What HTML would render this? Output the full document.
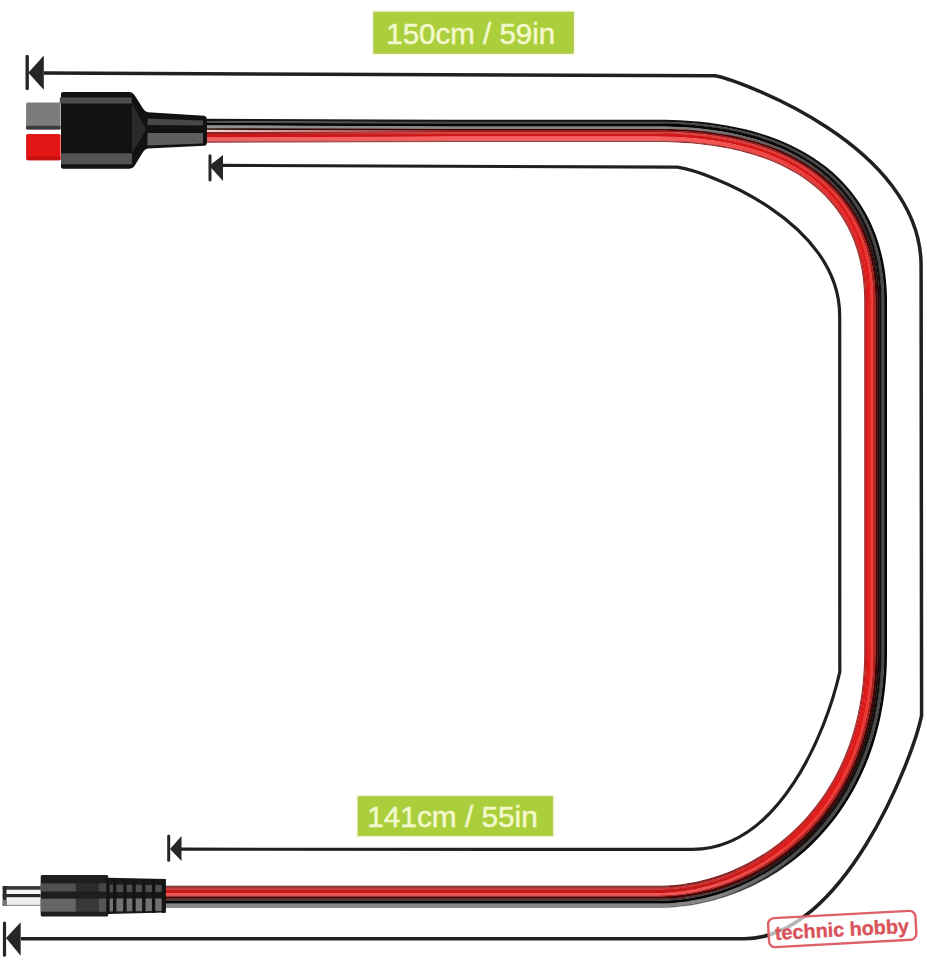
<!DOCTYPE html>
<html><head><meta charset="utf-8"><style>
html,body{margin:0;padding:0;background:#fff;}
body{width:927px;height:960px;overflow:hidden;font-family:"Liberation Sans",sans-serif;}
svg{display:block;}
</style></head><body>
<svg width="927" height="960" viewBox="0 0 927 960">
<defs><linearGradient id="g1" gradientUnits="userSpaceOnUse" x1="207.0" y1="130.9" x2="450.0" y2="130.9"><stop offset="0.00" stop-color="#505050"/><stop offset="1.00" stop-color="#4a4a4a"/></linearGradient>
<linearGradient id="g2" gradientUnits="userSpaceOnUse" x1="207.0" y1="130.9" x2="450.0" y2="130.9"><stop offset="0.00" stop-color="#909090"/><stop offset="1.00" stop-color="#8a8585"/></linearGradient>
<linearGradient id="g3" gradientUnits="userSpaceOnUse" x1="207.0" y1="130.9" x2="450.0" y2="130.9"><stop offset="0.00" stop-color="#200404"/><stop offset="1.00" stop-color="#4a0000"/></linearGradient>
<linearGradient id="g4" gradientUnits="userSpaceOnUse" x1="207.0" y1="130.9" x2="450.0" y2="130.9"><stop offset="0.00" stop-color="#f2d4d4"/><stop offset="1.00" stop-color="#8a1818"/></linearGradient>
<linearGradient id="g5" gradientUnits="userSpaceOnUse" x1="207.0" y1="130.9" x2="450.0" y2="130.9"><stop offset="0.00" stop-color="#802020"/><stop offset="1.00" stop-color="#d84040"/></linearGradient>
<linearGradient id="g6" gradientUnits="userSpaceOnUse" x1="207.0" y1="130.9" x2="450.0" y2="130.9"><stop offset="0.00" stop-color="#c81818"/><stop offset="1.00" stop-color="#d01818"/></linearGradient>
<linearGradient id="g7" gradientUnits="userSpaceOnUse" x1="207.0" y1="130.9" x2="450.0" y2="130.9"><stop offset="0.00" stop-color="#902828"/><stop offset="1.00" stop-color="#802020"/></linearGradient>
<linearGradient id="g8" gradientUnits="userSpaceOnUse" x1="698.0" y1="90.9" x2="895.6" y2="272.0"><stop offset="0.00" stop-color="#151515"/><stop offset="1.00" stop-color="#060606"/></linearGradient>
<linearGradient id="g9" gradientUnits="userSpaceOnUse" x1="698.0" y1="90.9" x2="895.6" y2="272.0"><stop offset="0.00" stop-color="#050505"/><stop offset="1.00" stop-color="#141010"/></linearGradient>
<linearGradient id="g10" gradientUnits="userSpaceOnUse" x1="698.0" y1="90.9" x2="895.6" y2="272.0"><stop offset="0.00" stop-color="#8a8585"/><stop offset="1.00" stop-color="#1a0a0a"/></linearGradient>
<linearGradient id="g11" gradientUnits="userSpaceOnUse" x1="698.0" y1="90.9" x2="895.6" y2="272.0"><stop offset="0.00" stop-color="#4a0000"/><stop offset="1.00" stop-color="#400404"/></linearGradient>
<linearGradient id="g12" gradientUnits="userSpaceOnUse" x1="698.0" y1="90.9" x2="895.6" y2="272.0"><stop offset="0.00" stop-color="#8a1818"/><stop offset="1.00" stop-color="#a82020"/></linearGradient>
<linearGradient id="g13" gradientUnits="userSpaceOnUse" x1="698.0" y1="90.9" x2="895.6" y2="272.0"><stop offset="0.00" stop-color="#d84040"/><stop offset="1.00" stop-color="#ec3a35"/></linearGradient>
<linearGradient id="g14" gradientUnits="userSpaceOnUse" x1="698.0" y1="90.9" x2="895.6" y2="272.0"><stop offset="0.00" stop-color="#d01818"/><stop offset="1.00" stop-color="#e01818"/></linearGradient>
<linearGradient id="g15" gradientUnits="userSpaceOnUse" x1="698.0" y1="90.9" x2="895.6" y2="272.0"><stop offset="0.00" stop-color="#f86060"/><stop offset="1.00" stop-color="#dc1818"/></linearGradient>
<linearGradient id="g16" gradientUnits="userSpaceOnUse" x1="698.0" y1="90.9" x2="895.6" y2="272.0"><stop offset="0.00" stop-color="#d05050"/><stop offset="1.00" stop-color="#b82525"/></linearGradient>
<linearGradient id="g17" gradientUnits="userSpaceOnUse" x1="698.0" y1="90.9" x2="895.6" y2="272.0"><stop offset="0.00" stop-color="#802020"/><stop offset="1.00" stop-color="#a03030"/></linearGradient>
<linearGradient id="g18" gradientUnits="userSpaceOnUse" x1="800.0" y1="850.0" x2="720.0" y2="905.0"><stop offset="0.00" stop-color="#060606"/><stop offset="1.00" stop-color="#606060"/></linearGradient>
<linearGradient id="g19" gradientUnits="userSpaceOnUse" x1="800.0" y1="850.0" x2="720.0" y2="905.0"><stop offset="0.00" stop-color="#4a4a4a"/><stop offset="1.00" stop-color="#868686"/></linearGradient>
<linearGradient id="g20" gradientUnits="userSpaceOnUse" x1="800.0" y1="850.0" x2="720.0" y2="905.0"><stop offset="0.00" stop-color="#141010"/><stop offset="1.00" stop-color="#050505"/></linearGradient>
<linearGradient id="g21" gradientUnits="userSpaceOnUse" x1="800.0" y1="850.0" x2="720.0" y2="905.0"><stop offset="0.00" stop-color="#1a0a0a"/><stop offset="1.00" stop-color="#4a3a3a"/></linearGradient>
<linearGradient id="g22" gradientUnits="userSpaceOnUse" x1="800.0" y1="850.0" x2="720.0" y2="905.0"><stop offset="0.00" stop-color="#400404"/><stop offset="1.00" stop-color="#4a0000"/></linearGradient>
<linearGradient id="g23" gradientUnits="userSpaceOnUse" x1="800.0" y1="850.0" x2="720.0" y2="905.0"><stop offset="0.00" stop-color="#a82020"/><stop offset="1.00" stop-color="#a82424"/></linearGradient>
<linearGradient id="g24" gradientUnits="userSpaceOnUse" x1="800.0" y1="850.0" x2="720.0" y2="905.0"><stop offset="0.00" stop-color="#ec3a35"/><stop offset="1.00" stop-color="#f05454"/></linearGradient>
<linearGradient id="g25" gradientUnits="userSpaceOnUse" x1="800.0" y1="850.0" x2="720.0" y2="905.0"><stop offset="0.00" stop-color="#e01818"/><stop offset="1.00" stop-color="#c41818"/></linearGradient>
<linearGradient id="g26" gradientUnits="userSpaceOnUse" x1="800.0" y1="850.0" x2="720.0" y2="905.0"><stop offset="0.00" stop-color="#dc1818"/><stop offset="1.00" stop-color="#c83838"/></linearGradient>
<linearGradient id="g27" gradientUnits="userSpaceOnUse" x1="800.0" y1="850.0" x2="720.0" y2="905.0"><stop offset="0.00" stop-color="#b82525"/><stop offset="1.00" stop-color="#8a2020"/></linearGradient>
<linearGradient id="g28" gradientUnits="userSpaceOnUse" x1="800.0" y1="850.0" x2="720.0" y2="905.0"><stop offset="0.00" stop-color="#a03030"/><stop offset="1.00" stop-color="#701818"/></linearGradient></defs>
<rect width="927" height="960" fill="#fff"/>
<path d="M 44 73.1 L 715.10 75.75 C 738.55 80.07, 921.10 145.28, 921.10 266.01 L 921.60 715.60 C 912.49 759.82, 842.96 938.80, 744.17 938.80 L 21 938.8" fill="none" stroke="#202020" stroke-width="3.5" stroke-linejoin="round"/>
<path d="M 223 165.35 L 677.50 167.20 C 705.96 171.16, 839.70 220.67, 839.70 316.07 L 839.80 672.00 C 826.23 731.86, 779.25 849.40, 692.26 849.40 L 181 849.2" fill="none" stroke="#202020" stroke-width="3.2" stroke-linejoin="round"/>
<line x1="27.2" y1="56.4" x2="27.2" y2="88.6" stroke="#262626" stroke-width="3.4" stroke-linecap="round"/><path d="M 28.3 72.8 L 43.8 55.4 L 43.8 89.7 Z" fill="#262626"/><line x1="210.0" y1="155.7" x2="210.0" y2="179.9" stroke="#262626" stroke-width="3.0" stroke-linecap="round"/><path d="M 209.3 165.8 L 223.0 155.0 L 223.0 180.9 Z" fill="#262626"/><line x1="168.7" y1="836.1" x2="168.7" y2="860.2" stroke="#262626" stroke-width="3.0" stroke-linecap="round"/><path d="M 170.0 849.1 L 181.5 835.9 L 181.5 861.1 Z" fill="#262626"/><line x1="4.5" y1="923.1" x2="4.5" y2="955.2" stroke="#262626" stroke-width="3.2" stroke-linecap="round"/><path d="M 6.0 938.0 L 20.7 922.2 L 20.7 955.8 Z" fill="#262626"/>
<rect x="371.7" y="10.1" width="203.8" height="45.2" fill="#fafcdf"/><rect x="373.7" y="12.1" width="199.8" height="41.2" fill="#abcf3c" stroke="#b0c55c" stroke-width="0.8"/>
<text x="386.3" y="43.6" font-family="Liberation Sans" font-size="29.5" fill="#f3f8cc" stroke="#f3f8cc" stroke-width="0.5">150cm / 59in</text>
<rect x="356" y="794.3" width="198.8" height="43.5" fill="#fafcdf"/><rect x="358" y="796.3" width="194.8" height="39.5" fill="#abcf3c" stroke="#b0c55c" stroke-width="0.8"/>
<text x="367.2" y="827" font-family="Liberation Sans" font-size="29.8" fill="#f3f8cc" stroke="#f3f8cc" stroke-width="0.5">141cm / 55in</text>
<path d="M207.00,118.80 450.00,119.80 450.00,122.15 207.00,121.35Z" fill="#151515"/>
<path d="M450.00,119.80 658.00,119.80 658.00,122.15 450.00,122.15Z" fill="#151515"/>
<path d="M887.00,302.00 887.00,652.00 884.05,652.00 884.05,302.00Z" fill="#060606"/>
<path d="M658.00,907.80 164.00,907.80 164.00,906.55 658.00,906.55Z" fill="#606060"/>
<path d="M658.00,119.80 665.41,119.85 672.71,120.02 679.89,120.31 686.95,120.71 693.90,121.22 700.74,121.84 707.46,122.58 714.06,123.43 720.55,124.39 726.92,125.47 733.18,126.65 739.32,127.94 745.35,129.35 751.26,130.86 757.05,132.49 762.73,134.22 768.29,136.06 773.73,138.02 779.05,140.08 784.26,142.24 789.35,144.52 794.31,146.90 799.16,149.39 803.89,151.99 808.49,154.69 812.97,157.50 817.33,160.41 821.57,163.43 825.68,166.55 829.66,169.77 833.52,173.10 837.24,176.52 840.84,180.05 844.31,183.68 847.65,187.40 850.85,191.22 853.92,195.13 856.86,199.14 859.67,203.24 862.33,207.43 864.87,211.70 867.26,216.07 869.52,220.52 871.64,225.05 873.62,229.66 875.47,234.36 877.18,239.13 878.75,243.98 880.18,248.91 881.48,253.90 882.64,258.97 883.66,264.12 884.54,269.33 885.29,274.61 885.90,279.96 886.38,285.37 886.72,290.85 886.93,296.39 887.00,302.00 884.05,302.00 883.99,296.46 883.79,290.99 883.47,285.59 883.01,280.25 882.41,274.97 881.69,269.77 880.82,264.64 879.83,259.57 878.70,254.58 877.44,249.66 876.04,244.81 874.50,240.04 872.84,235.34 871.03,230.73 869.09,226.19 867.02,221.73 864.81,217.36 862.47,213.06 860.00,208.86 857.39,204.74 854.64,200.71 851.77,196.76 848.76,192.91 845.62,189.15 842.35,185.49 838.95,181.91 835.42,178.44 831.77,175.06 827.98,171.78 824.07,168.60 820.03,165.51 815.86,162.53 811.58,159.65 807.16,156.88 802.63,154.20 797.97,151.63 793.19,149.16 788.29,146.80 783.26,144.54 778.12,142.39 772.86,140.35 767.48,138.41 761.98,136.57 756.36,134.85 750.62,133.23 744.77,131.72 738.79,130.32 732.70,129.03 726.50,127.85 720.17,126.77 713.73,125.81 707.17,124.96 700.50,124.22 693.71,123.59 686.80,123.08 679.77,122.67 672.63,122.39 665.37,122.21 658.00,122.15Z" fill="url(#g8)"/>
<path d="M887.00,652.00 886.90,660.44 886.59,668.75 886.09,676.92 885.40,684.96 884.51,692.87 883.43,700.64 882.17,708.28 880.73,715.78 879.11,723.15 877.32,730.37 875.36,737.47 873.24,744.42 870.95,751.24 868.50,757.91 865.90,764.45 863.15,770.85 860.25,777.10 857.20,783.22 854.02,789.19 850.70,795.02 847.25,800.71 843.68,806.25 839.98,811.65 836.16,816.91 832.23,822.02 828.18,826.99 824.03,831.81 819.77,836.49 815.42,841.01 810.96,845.40 806.42,849.63 801.79,853.72 797.07,857.65 792.27,861.44 787.40,865.08 782.45,868.57 777.44,871.91 772.36,875.10 767.22,878.15 762.03,881.04 756.79,883.78 751.50,886.38 746.16,888.83 740.79,891.13 735.38,893.28 729.94,895.28 724.47,897.13 718.98,898.83 713.46,900.39 707.93,901.80 702.39,903.06 696.83,904.17 691.27,905.13 685.71,905.95 680.15,906.61 674.60,907.13 669.05,907.50 663.52,907.73 658.00,907.80 658.00,906.55 663.48,906.47 668.98,906.23 674.49,905.84 680.01,905.28 685.53,904.58 691.04,903.72 696.56,902.70 702.06,901.53 707.54,900.22 713.02,898.75 718.47,897.13 723.89,895.36 729.29,893.45 734.65,891.39 739.98,889.18 745.27,886.83 750.52,884.33 755.72,881.69 760.87,878.90 765.96,875.97 771.01,872.90 775.99,869.69 780.91,866.33 785.76,862.84 790.54,859.20 795.26,855.43 799.89,851.51 804.45,847.46 808.92,843.27 813.32,838.94 817.62,834.47 821.82,829.85 825.92,825.09 829.91,820.19 833.80,815.14 837.57,809.95 841.22,804.62 844.75,799.14 848.16,793.53 851.44,787.77 854.58,781.87 857.59,775.83 860.45,769.64 863.17,763.32 865.74,756.86 868.16,750.26 870.43,743.52 872.53,736.64 874.47,729.63 876.24,722.47 877.84,715.19 879.27,707.76 880.52,700.20 881.58,692.50 882.46,684.67 883.15,676.70 883.65,668.60 883.95,660.37 884.05,652.00Z" fill="url(#g18)"/>
<path d="M207.00,121.00 450.00,121.80 450.00,123.85 207.00,123.35Z" fill="url(#g1)"/>
<path d="M450.00,121.80 658.00,121.80 658.00,123.85 450.00,123.85Z" fill="#4a4a4a"/>
<path d="M884.40,302.00 884.40,652.00 881.15,652.00 881.15,302.00Z" fill="#4a4a4a"/>
<path d="M658.00,906.90 164.00,906.90 164.00,903.25 658.00,903.25Z" fill="#868686"/>
<path d="M658.00,121.80 665.38,121.86 672.64,122.04 679.79,122.32 686.82,122.73 693.73,123.24 700.53,123.87 707.21,124.61 713.78,125.46 720.23,126.43 726.56,127.50 732.77,128.68 738.87,129.98 744.85,131.38 750.71,132.89 756.46,134.51 762.09,136.24 767.59,138.07 772.98,140.02 778.25,142.07 783.40,144.22 788.43,146.48 793.34,148.85 798.13,151.32 802.80,153.90 807.34,156.58 811.77,159.36 816.06,162.25 820.24,165.23 824.28,168.32 828.20,171.51 832.00,174.80 835.66,178.18 839.20,181.67 842.61,185.25 845.89,188.92 849.03,192.69 852.05,196.55 854.93,200.50 857.68,204.55 860.30,208.68 862.78,212.89 865.12,217.19 867.34,221.58 869.41,226.05 871.36,230.59 873.16,235.22 874.83,239.93 876.37,244.71 877.77,249.57 879.04,254.50 880.17,259.50 881.17,264.57 882.03,269.72 882.76,274.93 883.35,280.21 883.82,285.56 884.14,290.98 884.34,296.46 884.40,302.00 881.15,302.00 881.11,296.53 880.93,291.13 880.63,285.80 880.20,280.53 879.63,275.33 878.94,270.20 878.11,265.13 877.15,260.14 876.06,255.22 874.84,250.37 873.48,245.59 871.99,240.89 870.38,236.26 868.62,231.71 866.74,227.24 864.72,222.85 862.58,218.54 860.29,214.30 857.88,210.15 855.34,206.09 852.66,202.11 849.85,198.21 846.91,194.41 843.84,190.69 840.64,187.07 837.31,183.53 833.85,180.09 830.26,176.74 826.55,173.49 822.70,170.33 818.73,167.27 814.63,164.31 810.41,161.45 806.06,158.69 801.59,156.02 796.99,153.46 792.27,151.00 787.43,148.64 782.47,146.39 777.38,144.24 772.17,142.19 766.84,140.25 761.39,138.42 755.82,136.69 750.13,135.07 744.32,133.55 738.39,132.14 732.34,130.84 726.17,129.65 719.89,128.57 713.48,127.60 706.96,126.74 700.32,125.99 693.56,125.35 686.68,124.82 679.69,124.41 672.58,124.11 665.35,123.92 658.00,123.85Z" fill="#4a4a4a"/>
<path d="M884.40,652.00 884.30,660.38 884.00,668.62 883.50,676.73 882.81,684.70 881.93,692.54 880.86,700.25 879.61,707.82 878.18,715.26 876.58,722.55 874.81,729.72 872.87,736.74 870.76,743.63 868.49,750.37 866.07,756.98 863.50,763.46 860.77,769.79 857.90,775.98 854.89,782.03 851.74,787.94 848.46,793.70 845.05,799.33 841.51,804.81 837.85,810.15 834.08,815.35 830.19,820.41 826.19,825.32 822.08,830.09 817.87,834.71 813.57,839.19 809.17,843.52 804.68,847.72 800.12,851.78 795.48,855.70 790.76,859.48 785.97,863.12 781.11,866.62 776.18,869.98 771.19,873.20 766.14,876.27 761.03,879.21 755.88,882.00 750.67,884.65 745.41,887.15 740.11,889.50 734.78,891.72 729.40,893.78 724.00,895.70 718.57,897.47 713.11,899.09 707.63,900.56 702.13,901.88 696.62,903.05 691.10,904.06 685.57,904.92 680.05,905.63 674.52,906.19 669.00,906.58 663.49,906.82 658.00,906.90 658.00,903.25 663.39,903.17 668.80,902.94 674.23,902.56 679.66,902.02 685.09,901.34 690.52,900.50 695.95,899.52 701.37,898.38 706.78,897.10 712.18,895.67 717.55,894.09 722.91,892.37 728.23,890.50 733.53,888.48 738.79,886.32 744.01,884.02 749.19,881.57 754.33,878.98 759.42,876.25 764.46,873.37 769.44,870.36 774.37,867.20 779.23,863.90 784.03,860.46 788.76,856.88 793.41,853.16 797.99,849.31 802.50,845.31 806.92,841.18 811.25,836.90 815.50,832.49 819.65,827.93 823.70,823.23 827.64,818.39 831.48,813.41 835.20,808.28 838.81,803.01 842.30,797.61 845.66,792.06 848.90,786.37 852.00,780.54 854.97,774.57 857.80,768.46 860.49,762.21 863.04,755.82 865.43,749.30 867.67,742.63 869.75,735.83 871.66,728.89 873.42,721.81 875.00,714.60 876.41,707.25 877.65,699.76 878.70,692.14 879.57,684.38 880.26,676.49 880.75,668.46 881.05,660.30 881.15,652.00Z" fill="url(#g19)"/>
<path d="M207.00,123.00 450.00,123.50 450.00,126.75 207.00,125.65Z" fill="#050505"/>
<path d="M450.00,123.50 658.00,123.50 658.00,126.75 450.00,126.75Z" fill="#050505"/>
<path d="M881.50,302.00 881.50,652.00 879.15,652.00 879.15,302.00Z" fill="#141010"/>
<path d="M658.00,903.60 164.00,903.60 164.00,900.55 658.00,900.55Z" fill="#050505"/>
<path d="M658.00,123.50 665.35,123.57 672.59,123.76 679.70,124.06 686.71,124.47 693.59,125.00 700.35,125.64 707.00,126.39 713.53,127.25 719.94,128.23 726.23,129.31 732.41,130.50 738.47,131.80 744.40,133.21 750.22,134.73 755.92,136.35 761.50,138.08 766.95,139.92 772.29,141.87 777.51,143.91 782.60,146.07 787.58,148.33 792.43,150.69 797.16,153.15 801.76,155.72 806.24,158.39 810.60,161.16 814.83,164.02 818.94,166.99 822.92,170.06 826.77,173.22 830.50,176.48 834.09,179.84 837.56,183.29 840.90,186.83 844.11,190.46 847.18,194.19 850.13,198.00 852.95,201.91 855.63,205.90 858.18,209.97 860.60,214.13 862.89,218.37 865.04,222.70 867.06,227.10 868.95,231.58 870.70,236.14 872.33,240.78 873.82,245.49 875.17,250.28 876.40,255.14 877.49,260.07 878.45,265.07 879.28,270.14 879.98,275.28 880.55,280.49 880.98,285.77 881.28,291.12 881.46,296.52 881.50,302.00 879.15,302.00 879.09,296.58 878.91,291.23 878.59,285.95 878.15,280.73 877.58,275.59 876.87,270.51 876.04,265.51 875.07,260.58 873.98,255.72 872.76,250.94 871.41,246.23 869.92,241.59 868.31,237.04 866.57,232.56 864.69,228.16 862.69,223.84 860.56,219.60 858.30,215.44 855.91,211.36 853.39,207.37 850.74,203.47 847.96,199.65 845.05,195.91 842.02,192.27 838.86,188.71 835.57,185.25 832.15,181.88 828.61,178.59 824.94,175.41 821.15,172.31 817.23,169.31 813.18,166.41 809.01,163.61 804.72,160.90 800.30,158.29 795.76,155.77 791.10,153.36 786.31,151.05 781.41,148.84 776.38,146.73 771.23,144.72 765.96,142.81 760.56,141.01 755.05,139.31 749.41,137.72 743.66,136.23 737.79,134.85 731.79,133.58 725.68,132.41 719.45,131.35 713.09,130.39 706.62,129.55 700.03,128.82 693.32,128.19 686.50,127.68 679.55,127.28 672.48,126.99 665.30,126.81 658.00,126.75Z" fill="url(#g9)"/>
<path d="M881.50,652.00 881.40,660.31 881.10,668.48 880.61,676.52 879.92,684.42 879.05,692.18 877.99,699.82 876.76,707.31 875.34,714.67 873.76,721.89 872.00,728.98 870.08,735.93 868.00,742.74 865.76,749.41 863.36,755.95 860.82,762.35 858.12,768.60 855.29,774.72 852.31,780.70 849.20,786.54 845.96,792.24 842.59,797.79 839.10,803.21 835.49,808.48 831.76,813.62 827.91,818.61 823.96,823.46 819.91,828.16 815.75,832.73 811.50,837.15 807.16,841.43 802.73,845.57 798.22,849.57 793.63,853.44 788.97,857.16 784.23,860.74 779.43,864.19 774.56,867.49 769.63,870.65 764.64,873.68 759.59,876.55 754.49,879.29 749.35,881.89 744.16,884.34 738.92,886.64 733.65,888.81 728.35,890.82 723.01,892.70 717.65,894.42 712.27,896.00 706.87,897.44 701.45,898.72 696.02,899.86 690.58,900.85 685.14,901.68 679.69,902.37 674.25,902.91 668.82,903.29 663.40,903.52 658.00,903.60 658.00,900.55 663.32,900.48 668.66,900.26 674.01,899.89 679.37,899.38 684.73,898.72 690.10,897.91 695.47,896.96 700.83,895.87 706.18,894.63 711.52,893.24 716.84,891.71 722.14,890.04 727.42,888.22 732.67,886.26 737.89,884.15 743.07,881.91 748.21,879.51 753.31,876.98 758.37,874.30 763.37,871.48 768.32,868.52 773.21,865.42 778.04,862.17 782.81,858.79 787.50,855.26 792.13,851.59 796.68,847.78 801.15,843.82 805.53,839.73 809.83,835.50 814.04,831.12 818.15,826.61 822.16,821.95 826.07,817.15 829.87,812.21 833.57,807.13 837.14,801.91 840.60,796.55 843.94,791.04 847.14,785.40 850.22,779.62 853.17,773.70 855.98,767.64 858.65,761.45 861.17,755.11 863.54,748.64 865.76,742.02 867.83,735.27 869.73,728.38 871.47,721.36 873.04,714.20 874.44,706.90 875.67,699.46 876.72,691.89 877.58,684.18 878.26,676.34 878.75,668.36 879.05,660.25 879.15,652.00Z" fill="url(#g20)"/>
<path d="M207.00,125.30 450.00,126.40 450.00,129.25 207.00,128.55Z" fill="url(#g2)"/>
<path d="M450.00,126.40 658.00,126.40 658.00,129.25 450.00,129.25Z" fill="#8a8585"/>
<path d="M879.50,302.00 879.50,652.00 877.45,652.00 877.45,302.00Z" fill="#1a0a0a"/>
<path d="M658.00,900.90 164.00,900.90 164.00,898.45 658.00,898.45Z" fill="#4a3a3a"/>
<path d="M658.00,126.40 665.31,126.46 672.50,126.64 679.57,126.93 686.52,127.33 693.35,127.84 700.07,128.47 706.66,129.20 713.14,130.05 719.50,131.00 725.74,132.06 731.86,133.23 737.86,134.51 743.74,135.89 749.51,137.38 755.15,138.98 760.67,140.68 766.07,142.48 771.35,144.39 776.51,146.40 781.55,148.52 786.46,150.73 791.26,153.05 795.93,155.46 800.48,157.98 804.90,160.60 809.20,163.31 813.38,166.12 817.43,169.03 821.36,172.04 825.17,175.14 828.84,178.33 832.39,181.62 835.82,185.00 839.12,188.48 842.28,192.04 845.33,195.69 848.24,199.43 851.02,203.26 853.68,207.18 856.21,211.18 858.60,215.26 860.87,219.43 863.01,223.68 865.01,228.01 866.89,232.43 868.64,236.91 870.25,241.48 871.74,246.13 873.10,250.85 874.32,255.64 875.42,260.51 876.38,265.45 877.22,270.46 877.92,275.55 878.50,280.70 878.94,285.92 879.26,291.21 879.44,296.57 879.50,302.00 877.45,302.00 877.38,296.62 877.19,291.32 876.86,286.08 876.41,280.91 875.83,275.81 875.11,270.79 874.28,265.83 873.31,260.96 872.21,256.15 870.99,251.42 869.64,246.77 868.15,242.19 866.55,237.70 864.81,233.28 862.95,228.94 860.96,224.68 858.84,220.50 856.59,216.41 854.22,212.40 851.72,208.47 849.09,204.63 846.34,200.87 843.46,197.20 840.46,193.62 837.33,190.12 834.08,186.72 830.70,183.41 827.19,180.18 823.56,177.05 819.81,174.01 815.93,171.07 811.93,168.21 807.81,165.46 803.57,162.79 799.20,160.23 794.70,157.76 790.09,155.39 785.35,153.11 780.50,150.94 775.52,148.86 770.42,146.89 765.19,145.02 759.85,143.24 754.39,141.57 748.80,140.01 743.09,138.54 737.27,137.18 731.32,135.93 725.25,134.78 719.07,133.74 712.76,132.80 706.33,131.97 699.79,131.25 693.12,130.64 686.33,130.14 679.43,129.75 672.41,129.47 665.26,129.30 658.00,129.25Z" fill="url(#g10)"/>
<path d="M879.50,652.00 879.40,660.26 879.10,668.38 878.61,676.37 877.93,684.22 877.07,691.94 876.02,699.52 874.79,706.96 873.39,714.27 871.81,721.44 870.07,728.47 868.16,735.37 866.09,742.13 863.87,748.75 861.49,755.24 858.97,761.58 856.30,767.79 853.49,773.85 850.54,779.78 847.45,785.57 844.24,791.22 840.90,796.73 837.43,802.10 833.85,807.33 830.15,812.42 826.35,817.37 822.43,822.17 818.41,826.84 814.29,831.36 810.08,835.74 805.78,839.98 801.38,844.08 796.91,848.04 792.35,851.86 787.72,855.54 783.01,859.07 778.24,862.46 773.40,865.71 768.50,868.82 763.54,871.79 758.53,874.61 753.47,877.29 748.36,879.83 743.21,882.23 738.02,884.48 732.79,886.59 727.54,888.55 722.25,890.37 716.94,892.05 711.61,893.58 706.26,894.97 700.90,896.21 695.53,897.30 690.16,898.26 684.78,899.06 679.41,899.72 674.04,900.24 668.68,900.61 663.33,900.83 658.00,900.90 658.00,898.45 663.26,898.38 668.54,898.16 673.84,897.81 679.14,897.31 684.46,896.67 689.77,895.88 695.09,894.95 700.40,893.88 705.70,892.67 711.00,891.32 716.27,889.82 721.53,888.18 726.77,886.39 731.98,884.47 737.16,882.40 742.30,880.19 747.41,877.84 752.47,875.34 757.49,872.70 762.47,869.92 767.38,867.00 772.25,863.94 777.05,860.73 781.78,857.38 786.45,853.89 791.04,850.26 795.56,846.48 800.00,842.56 804.36,838.50 808.62,834.30 812.80,829.96 816.88,825.48 820.86,820.86 824.74,816.09 828.51,811.19 832.18,806.15 835.73,800.97 839.16,795.64 842.47,790.18 845.66,784.58 848.71,778.84 851.64,772.97 854.43,766.95 857.08,760.80 859.58,754.50 861.94,748.07 864.14,741.50 866.19,734.80 868.09,727.95 869.81,720.97 871.38,713.86 872.77,706.60 873.99,699.21 875.03,691.68 875.89,684.02 876.57,676.22 877.06,668.28 877.35,660.21 877.45,652.00Z" fill="url(#g21)"/>
<path d="M207.00,128.20 450.00,128.90 450.00,130.65 207.00,130.15Z" fill="url(#g3)"/>
<path d="M450.00,128.90 658.00,128.90 658.00,130.65 450.00,130.65Z" fill="#4a0000"/>
<path d="M877.80,302.00 877.80,652.00 875.25,652.00 875.25,302.00Z" fill="#400404"/>
<path d="M658.00,898.80 164.00,898.80 164.00,896.25 658.00,896.25Z" fill="#4a0000"/>
<path d="M658.00,128.90 665.27,128.95 672.42,129.12 679.45,129.40 686.36,129.79 693.15,130.29 699.82,130.90 706.37,131.62 712.81,132.45 719.12,133.39 725.32,134.43 731.39,135.58 737.34,136.84 743.18,138.20 748.89,139.67 754.48,141.24 759.96,142.91 765.31,144.68 770.54,146.56 775.65,148.54 780.64,150.62 785.50,152.80 790.25,155.07 794.87,157.45 799.37,159.92 803.75,162.50 808.00,165.16 812.13,167.93 816.14,170.78 820.03,173.74 823.79,176.78 827.43,179.92 830.94,183.15 834.33,186.47 837.59,189.89 840.72,193.39 843.74,196.98 846.62,200.66 849.38,204.42 852.01,208.28 854.52,212.21 856.90,216.24 859.15,220.34 861.27,224.53 863.27,228.80 865.13,233.15 866.87,237.57 868.49,242.08 869.97,246.67 871.33,251.33 872.55,256.07 873.65,260.88 874.62,265.77 875.46,270.73 876.17,275.77 876.76,280.87 877.21,286.05 877.54,291.30 877.73,296.61 877.80,302.00 875.25,302.00 875.20,296.68 875.01,291.42 874.70,286.24 874.27,281.12 873.71,276.08 873.02,271.11 872.20,266.21 871.26,261.39 870.19,256.64 869.00,251.97 867.68,247.37 866.23,242.85 864.66,238.40 862.96,234.04 861.13,229.75 859.18,225.54 857.11,221.41 854.91,217.37 852.58,213.40 850.13,209.52 847.55,205.72 844.85,202.00 842.02,198.37 839.07,194.82 835.99,191.36 832.79,187.99 829.46,184.70 826.01,181.50 822.44,178.40 818.74,175.38 814.91,172.45 810.96,169.62 806.89,166.88 802.69,164.23 798.37,161.67 793.93,159.22 789.36,156.85 784.67,154.59 779.86,152.42 774.92,150.34 769.86,148.37 764.68,146.50 759.38,144.73 753.95,143.06 748.40,141.49 742.73,140.02 736.94,138.66 731.03,137.40 724.99,136.25 718.83,135.20 712.56,134.26 706.16,133.42 699.64,132.70 693.00,132.08 686.24,131.57 679.36,131.17 672.36,130.89 665.24,130.71 658.00,130.65Z" fill="url(#g11)"/>
<path d="M877.80,652.00 877.70,660.22 877.41,668.30 876.92,676.24 876.24,684.05 875.38,691.72 874.34,699.26 873.11,706.66 871.72,713.93 870.16,721.05 868.42,728.04 866.53,734.90 864.48,741.61 862.27,748.19 859.91,754.63 857.40,760.93 854.75,767.09 851.95,773.12 849.02,779.01 845.96,784.75 842.77,790.36 839.46,795.83 836.02,801.16 832.46,806.35 828.79,811.40 825.01,816.31 821.13,821.08 817.14,825.71 813.05,830.20 808.87,834.55 804.60,838.76 800.24,842.82 795.79,846.75 791.27,850.53 786.66,854.17 781.99,857.66 777.24,861.02 772.44,864.23 767.57,867.30 762.64,870.23 757.66,873.01 752.63,875.65 747.56,878.15 742.44,880.51 737.29,882.72 732.10,884.80 726.89,886.72 721.64,888.51 716.37,890.15 711.09,891.65 705.79,893.01 700.47,894.23 695.15,895.30 689.83,896.23 684.50,897.01 679.18,897.66 673.87,898.16 668.56,898.51 663.27,898.73 658.00,898.80 658.00,896.25 663.20,896.18 668.42,895.97 673.66,895.62 678.91,895.12 684.16,894.49 689.42,893.71 694.68,892.79 699.93,891.73 705.18,890.53 710.42,889.19 715.64,887.71 720.85,886.09 726.03,884.32 731.18,882.42 736.31,880.37 741.40,878.18 746.46,875.85 751.47,873.38 756.44,870.77 761.36,868.02 766.23,865.13 771.04,862.09 775.80,858.92 780.49,855.60 785.11,852.15 789.66,848.55 794.13,844.81 798.52,840.93 802.83,836.91 807.06,832.76 811.19,828.46 815.23,824.02 819.17,819.44 823.01,814.73 826.75,809.87 830.38,804.88 833.89,799.75 837.29,794.48 840.57,789.07 843.73,783.52 846.76,777.84 849.66,772.01 852.42,766.05 855.04,759.95 857.52,753.72 859.86,747.34 862.05,740.83 864.08,734.18 865.96,727.40 867.67,720.47 869.22,713.41 870.60,706.21 871.81,698.88 872.85,691.41 873.70,683.80 874.37,676.05 874.86,668.17 875.15,660.15 875.25,652.00Z" fill="url(#g22)"/>
<path d="M207.00,129.80 450.00,130.30 450.00,132.05 207.00,132.35Z" fill="url(#g4)"/>
<path d="M450.00,130.30 658.00,130.30 658.00,132.05 450.00,132.05Z" fill="#8a1818"/>
<path d="M875.60,302.00 875.60,652.00 873.05,652.00 873.05,302.00Z" fill="#a82020"/>
<path d="M658.00,896.60 164.00,896.60 164.00,895.15 658.00,895.15Z" fill="#a82424"/>
<path d="M658.00,130.30 665.25,130.36 672.37,130.54 679.38,130.82 686.26,131.22 693.03,131.73 699.68,132.35 706.20,133.07 712.61,133.91 718.89,134.85 725.05,135.90 731.09,137.06 737.02,138.32 742.81,139.68 748.49,141.15 754.05,142.72 759.48,144.39 764.80,146.17 769.98,148.04 775.05,150.02 780.00,152.09 784.82,154.27 789.52,156.54 794.09,158.91 798.55,161.37 802.88,163.93 807.08,166.58 811.16,169.33 815.12,172.17 818.95,175.10 822.66,178.13 826.25,181.24 829.71,184.45 833.04,187.74 836.25,191.12 839.34,194.59 842.30,198.15 845.13,201.79 847.84,205.51 850.42,209.32 852.88,213.22 855.21,217.19 857.42,221.25 859.50,225.39 861.45,229.61 863.28,233.90 864.98,238.28 866.56,242.74 868.01,247.27 869.33,251.88 870.53,256.56 871.60,261.32 872.55,266.15 873.36,271.06 874.05,276.04 874.62,281.09 875.05,286.21 875.36,291.40 875.55,296.67 875.60,302.00 873.05,302.00 873.01,296.73 872.84,291.53 872.55,286.40 872.13,281.34 871.59,276.35 870.92,271.44 870.13,266.59 869.21,261.83 868.17,257.13 867.01,252.51 865.72,247.97 864.30,243.50 862.77,239.11 861.11,234.80 859.32,230.56 857.41,226.40 855.38,222.32 853.22,218.32 850.94,214.40 848.54,210.56 846.01,206.80 843.36,203.13 840.58,199.53 837.68,196.02 834.66,192.60 831.51,189.25 828.23,186.00 824.83,182.83 821.31,179.74 817.66,176.75 813.89,173.84 809.99,171.02 805.97,168.30 801.82,165.66 797.55,163.12 793.15,160.67 788.63,158.32 783.99,156.06 779.22,153.89 774.33,151.82 769.31,149.85 764.17,147.98 758.90,146.21 753.51,144.54 748.00,142.97 742.37,141.50 736.61,140.13 730.73,138.87 724.73,137.71 718.60,136.66 712.36,135.71 705.99,134.87 699.49,134.14 692.88,133.52 686.15,133.00 679.29,132.60 672.32,132.30 665.22,132.12 658.00,132.05Z" fill="url(#g12)"/>
<path d="M875.60,652.00 875.50,660.16 875.21,668.19 874.72,676.08 874.05,683.83 873.20,691.45 872.16,698.93 870.95,706.28 869.57,713.48 868.01,720.55 866.30,727.49 864.42,734.28 862.38,740.94 860.19,747.46 857.85,753.84 855.37,760.09 852.74,766.20 849.97,772.17 847.07,778.00 844.04,783.69 840.87,789.25 837.59,794.66 834.19,799.94 830.66,805.08 827.03,810.08 823.29,814.94 819.44,819.67 815.49,824.25 811.45,828.70 807.31,833.00 803.08,837.17 798.76,841.19 794.36,845.08 789.88,848.82 785.32,852.42 780.69,855.89 776.00,859.21 771.24,862.39 766.42,865.43 761.54,868.32 756.61,871.08 751.63,873.69 746.61,876.17 741.55,878.50 736.44,880.69 731.31,882.74 726.15,884.65 720.96,886.42 715.74,888.05 710.51,889.53 705.27,890.87 700.01,892.08 694.74,893.14 689.48,894.06 684.21,894.83 678.94,895.47 673.69,895.96 668.44,896.32 663.21,896.53 658.00,896.60 658.00,895.15 663.17,895.08 668.36,894.85 673.57,894.49 678.78,893.97 684.00,893.31 689.22,892.51 694.45,891.56 699.66,890.46 704.86,889.23 710.05,887.85 715.23,886.33 720.38,884.67 725.51,882.87 730.61,880.92 735.67,878.84 740.71,876.62 745.70,874.26 750.65,871.77 755.55,869.13 760.40,866.36 765.20,863.45 769.95,860.41 774.63,857.23 779.26,853.92 783.81,850.47 788.30,846.88 792.71,843.17 797.05,839.31 801.31,835.33 805.49,831.21 809.58,826.95 813.58,822.56 817.49,818.03 821.29,813.36 824.99,808.56 828.58,803.61 832.06,798.53 835.43,793.31 838.68,787.95 841.80,782.46 844.80,776.83 847.67,771.06 850.41,765.16 853.01,759.11 855.47,752.93 857.79,746.62 859.95,740.16 861.97,733.57 863.83,726.84 865.53,719.97 867.07,712.97 868.44,705.83 869.64,698.55 870.67,691.13 871.51,683.58 872.18,675.89 872.66,668.06 872.95,660.10 873.05,652.00Z" fill="url(#g23)"/>
<path d="M207.00,132.00 450.00,131.70 450.00,133.85 207.00,134.15Z" fill="url(#g5)"/>
<path d="M450.00,131.70 658.00,131.70 658.00,133.85 450.00,133.85Z" fill="#d84040"/>
<path d="M873.40,302.00 873.40,652.00 870.45,652.00 870.45,302.00Z" fill="#ec3a35"/>
<path d="M658.00,895.50 164.00,895.50 164.00,892.65 658.00,892.65Z" fill="#f05454"/>
<path d="M658.00,131.70 665.22,131.77 672.33,131.95 679.31,132.25 686.17,132.65 692.91,133.17 699.53,133.79 706.03,134.53 712.40,135.37 718.66,136.31 724.79,137.37 730.80,138.53 736.69,139.79 742.45,141.16 748.09,142.63 753.61,144.20 759.01,145.88 764.28,147.65 769.43,149.53 774.46,151.50 779.36,153.57 784.14,155.74 788.79,158.00 793.32,160.36 797.72,162.82 802.00,165.36 806.16,168.00 810.19,170.74 814.10,173.56 817.88,176.47 821.53,179.47 825.07,182.56 828.47,185.74 831.76,189.01 834.91,192.36 837.95,195.79 840.85,199.31 843.64,202.92 846.30,206.60 848.83,210.37 851.24,214.22 853.53,218.15 855.69,222.16 857.73,226.25 859.64,230.42 861.43,234.66 863.09,238.99 864.64,243.39 866.05,247.87 867.34,252.42 868.51,257.05 869.55,261.75 870.47,266.53 871.27,271.38 871.94,276.31 872.48,281.30 872.90,286.37 873.19,291.51 873.36,296.72 873.40,302.00 870.45,302.00 870.42,296.79 870.27,291.65 869.99,286.59 869.59,281.59 869.07,276.67 868.43,271.82 867.66,267.05 866.77,262.34 865.76,257.72 864.63,253.16 863.38,248.69 862.00,244.28 860.50,239.96 858.88,235.71 857.14,231.53 855.28,227.44 853.30,223.42 851.19,219.48 848.97,215.61 846.62,211.83 844.14,208.12 841.55,204.50 838.83,200.95 835.99,197.49 833.03,194.10 829.94,190.80 826.72,187.58 823.39,184.45 819.93,181.39 816.34,178.43 812.63,175.55 808.79,172.76 804.83,170.05 800.74,167.44 796.53,164.91 792.19,162.48 787.73,160.14 783.14,157.89 778.42,155.73 773.58,153.67 768.62,151.71 763.52,149.84 758.31,148.08 752.97,146.41 747.50,144.84 741.91,143.37 736.20,142.00 730.36,140.73 724.39,139.57 718.31,138.52 712.10,137.57 705.76,136.72 699.31,135.98 692.73,135.35 686.03,134.83 679.20,134.42 672.26,134.12 665.19,133.93 658.00,133.85Z" fill="url(#g13)"/>
<path d="M873.40,652.00 873.30,660.11 873.01,668.08 872.53,675.92 871.86,683.62 871.01,691.18 869.99,698.60 868.78,705.89 867.41,713.04 865.87,720.05 864.17,726.93 862.30,733.67 860.29,740.27 858.12,746.73 855.80,753.06 853.33,759.25 850.73,765.30 847.99,771.21 845.11,776.99 842.11,782.63 838.98,788.13 835.72,793.50 832.35,798.72 828.87,803.81 825.27,808.76 821.56,813.58 817.76,818.25 813.85,822.79 809.84,827.19 805.74,831.46 801.56,835.58 797.29,839.57 792.94,843.43 788.52,847.15 784.03,850.74 779.46,854.20 774.83,857.52 770.14,860.70 765.39,863.75 760.58,866.66 755.72,869.44 750.81,872.08 745.85,874.58 740.85,876.94 735.81,879.17 730.73,881.25 725.63,883.20 720.49,885.00 715.33,886.67 710.15,888.19 704.95,889.57 699.73,890.81 694.51,891.90 689.28,892.85 684.05,893.66 678.82,894.32 673.60,894.83 668.38,895.20 663.18,895.43 658.00,895.50 658.00,892.65 663.10,892.58 668.23,892.36 673.36,891.99 678.51,891.48 683.67,890.83 688.82,890.03 693.98,889.09 699.13,888.00 704.27,886.78 709.39,885.41 714.50,883.91 719.59,882.26 724.65,880.47 729.69,878.55 734.69,876.49 739.66,874.29 744.59,871.95 749.48,869.48 754.32,866.88 759.11,864.13 763.86,861.26 768.54,858.25 773.17,855.10 777.73,851.82 782.23,848.41 786.66,844.87 791.02,841.20 795.31,837.39 799.51,833.45 803.64,829.38 807.69,825.18 811.64,820.84 815.49,816.36 819.25,811.75 822.91,807.00 826.46,802.11 829.90,797.09 833.22,791.93 836.43,786.64 839.52,781.21 842.49,775.64 845.33,769.94 848.04,764.10 850.61,758.12 853.04,752.00 855.33,745.75 857.48,739.37 859.47,732.84 861.31,726.18 863.00,719.38 864.52,712.44 865.88,705.37 867.07,698.16 868.09,690.81 868.93,683.32 869.59,675.70 870.06,667.94 870.35,660.04 870.45,652.00Z" fill="url(#g24)"/>
<path d="M207.00,133.80 450.00,133.50 450.00,136.85 207.00,137.85Z" fill="url(#g6)"/>
<path d="M450.00,133.50 658.00,133.50 658.00,136.85 450.00,136.85Z" fill="#d01818"/>
<path d="M870.80,302.00 870.80,652.00 868.15,652.00 868.15,302.00Z" fill="#e01818"/>
<path d="M658.00,893.00 164.00,893.00 164.00,889.25 658.00,889.25Z" fill="#c41818"/>
<path d="M658.00,133.50 665.20,133.58 672.27,133.77 679.22,134.07 686.05,134.48 692.76,135.00 699.34,135.63 705.81,136.37 712.15,137.22 718.36,138.17 724.46,139.23 730.43,140.39 736.27,141.66 741.99,143.03 747.59,144.50 753.07,146.07 758.41,147.74 763.64,149.51 768.74,151.38 773.71,153.35 778.56,155.41 783.28,157.57 787.88,159.82 792.36,162.17 796.70,164.61 800.92,167.14 805.02,169.76 808.99,172.47 812.84,175.27 816.56,178.15 820.15,181.13 823.62,184.18 826.97,187.33 830.19,190.55 833.28,193.86 836.26,197.26 839.10,200.73 841.83,204.29 844.43,207.92 846.91,211.64 849.26,215.43 851.50,219.30 853.61,223.26 855.60,227.29 857.46,231.39 859.21,235.58 860.83,239.84 862.33,244.17 863.71,248.58 864.97,253.07 866.10,257.63 867.12,262.27 868.01,266.98 868.77,271.77 869.42,276.63 869.94,281.56 870.34,286.56 870.62,291.64 870.77,296.78 870.80,302.00 868.15,302.00 868.11,296.85 867.95,291.77 867.67,286.76 867.26,281.83 866.74,276.97 866.09,272.18 865.32,267.47 864.43,262.84 863.42,258.28 862.30,253.80 861.05,249.40 859.68,245.07 858.20,240.82 856.60,236.65 854.87,232.55 853.03,228.53 851.07,224.59 848.99,220.73 846.80,216.94 844.48,213.24 842.04,209.61 839.48,206.06 836.81,202.59 834.01,199.20 831.09,195.89 828.05,192.66 824.89,189.51 821.61,186.44 818.20,183.46 814.67,180.55 811.02,177.74 807.24,175.00 803.34,172.36 799.31,169.79 795.16,167.32 790.88,164.94 786.48,162.64 781.96,160.43 777.30,158.32 772.52,156.30 767.62,154.37 762.59,152.54 757.44,150.80 752.16,149.16 746.75,147.62 741.22,146.18 735.57,144.83 729.78,143.59 723.88,142.45 717.85,141.41 711.69,140.48 705.41,139.65 699.01,138.92 692.48,138.31 685.83,137.80 679.06,137.39 672.16,137.10 665.14,136.92 658.00,136.85Z" fill="url(#g14)"/>
<path d="M870.80,652.00 870.70,660.05 870.41,667.95 869.94,675.73 869.28,683.36 868.43,690.85 867.41,698.21 866.22,705.43 864.86,712.51 863.34,719.46 861.65,726.27 859.81,732.94 857.81,739.47 855.66,745.87 853.37,752.13 850.93,758.25 848.36,764.24 845.64,770.09 842.80,775.80 839.83,781.38 836.74,786.81 833.52,792.12 830.19,797.28 826.74,802.31 823.19,807.21 819.53,811.96 815.76,816.59 811.90,821.07 807.94,825.42 803.89,829.63 799.76,833.70 795.54,837.65 791.25,841.46 786.88,845.14 782.44,848.69 777.94,852.11 773.36,855.39 768.73,858.54 764.04,861.55 759.29,864.44 754.49,867.18 749.64,869.79 744.74,872.27 739.81,874.61 734.83,876.81 729.82,878.88 724.77,880.80 719.70,882.59 714.60,884.24 709.48,885.75 704.35,887.12 699.20,888.34 694.04,889.43 688.88,890.37 683.71,891.17 678.55,891.83 673.39,892.34 668.25,892.71 663.11,892.93 658.00,893.00 658.00,889.25 663.01,889.18 668.04,888.98 673.09,888.64 678.15,888.16 683.22,887.54 688.30,886.79 693.37,885.90 698.45,884.87 703.52,883.71 708.58,882.41 713.62,880.98 718.65,879.40 723.66,877.69 728.64,875.85 733.60,873.86 738.52,871.74 743.41,869.49 748.26,867.09 753.06,864.56 757.82,861.90 762.53,859.10 767.18,856.16 771.78,853.08 776.31,849.87 780.78,846.53 785.18,843.05 789.50,839.43 793.75,835.68 797.92,831.79 802.01,827.77 806.01,823.61 809.92,819.31 813.73,814.88 817.45,810.32 821.07,805.62 824.58,800.79 827.98,795.82 831.27,790.71 834.45,785.47 837.51,780.10 840.45,774.59 843.26,768.94 845.94,763.16 848.48,757.24 850.89,751.18 853.16,744.99 855.29,738.66 857.26,732.20 859.09,725.60 860.76,718.86 862.27,711.98 863.62,704.97 864.79,697.81 865.80,690.52 866.64,683.10 867.29,675.53 867.77,667.83 868.05,659.98 868.15,652.00Z" fill="url(#g25)"/>
<path d="M207.00,137.50 450.00,136.50 450.00,140.55 207.00,140.55Z" fill="#f86060"/>
<path d="M450.00,136.50 658.00,136.50 658.00,140.55 450.00,140.55Z" fill="#f86060"/>
<path d="M868.50,302.00 868.50,652.00 866.05,652.00 866.05,302.00Z" fill="#dc1818"/>
<path d="M658.00,889.60 164.00,889.60 164.00,887.45 658.00,887.45Z" fill="#c83838"/>
<path d="M658.00,136.50 665.15,136.57 672.17,136.75 679.08,137.04 685.86,137.45 692.51,137.96 699.05,138.57 705.46,139.30 711.74,140.13 717.90,141.06 723.94,142.10 729.85,143.25 735.64,144.49 741.30,145.84 746.84,147.28 752.26,148.83 757.54,150.47 762.71,152.21 767.74,154.04 772.66,155.97 777.44,158.00 782.10,160.12 786.64,162.33 791.05,164.63 795.33,167.02 799.49,169.50 803.53,172.06 807.44,174.72 811.22,177.45 814.89,180.28 818.42,183.19 821.84,186.18 825.13,189.26 828.30,192.41 831.35,195.65 834.28,198.97 837.08,202.37 839.76,205.85 842.33,209.41 844.77,213.04 847.09,216.76 849.30,220.55 851.38,224.43 853.35,228.38 855.19,232.41 856.92,236.51 858.53,240.70 860.02,244.96 861.38,249.30 862.63,253.71 863.76,258.20 864.77,262.77 865.66,267.41 866.43,272.13 867.08,276.92 867.61,281.79 868.02,286.73 868.30,291.75 868.46,296.84 868.50,302.00 866.05,302.00 865.99,296.90 865.80,291.87 865.50,286.92 865.07,282.05 864.52,277.25 863.86,272.53 863.07,267.89 862.17,263.32 861.15,258.84 860.01,254.43 858.75,250.10 857.38,245.85 855.89,241.68 854.29,237.59 852.57,233.58 850.73,229.65 848.78,225.80 846.71,222.03 844.53,218.33 842.23,214.72 839.81,211.18 837.28,207.72 834.64,204.35 831.87,201.05 828.99,197.83 825.99,194.69 822.87,191.63 819.64,188.65 816.28,185.75 812.80,182.93 809.20,180.19 805.48,177.54 801.64,174.97 797.68,172.48 793.59,170.08 789.38,167.76 785.04,165.53 780.58,163.39 776.00,161.33 771.29,159.37 766.45,157.50 761.49,155.72 756.41,154.03 751.20,152.43 745.86,150.93 740.40,149.53 734.81,148.23 729.10,147.02 723.26,145.91 717.29,144.91 711.20,144.00 704.99,143.20 698.65,142.50 692.19,141.91 685.60,141.42 678.88,141.04 672.05,140.77 665.08,140.60 658.00,140.55Z" fill="url(#g15)"/>
<path d="M868.50,652.00 868.40,659.99 868.12,667.84 867.64,675.56 866.99,683.13 866.15,690.57 865.14,697.87 863.96,705.03 862.61,712.05 861.10,718.94 859.43,725.69 857.60,732.30 855.62,738.77 853.49,745.11 851.22,751.31 848.81,757.37 846.26,763.30 843.57,769.09 840.76,774.75 837.82,780.27 834.75,785.65 831.57,790.90 828.27,796.01 824.86,800.99 821.35,805.83 817.72,810.54 814.00,815.11 810.18,819.54 806.26,823.85 802.26,828.01 798.16,832.04 793.99,835.94 789.73,839.70 785.40,843.32 780.99,846.81 776.52,850.16 771.97,853.37 767.37,856.45 762.71,859.39 758.00,862.20 753.23,864.87 748.42,867.40 743.56,869.80 738.67,872.06 733.73,874.18 728.77,876.17 723.78,878.02 718.76,879.73 713.72,881.31 708.67,882.75 703.60,884.05 698.52,885.22 693.44,886.24 688.35,887.14 683.27,887.89 678.19,888.50 673.12,888.98 668.06,889.33 663.02,889.53 658.00,889.60 658.00,887.45 662.96,887.38 667.94,887.18 672.94,886.83 677.96,886.35 682.98,885.73 688.00,884.98 693.03,884.09 698.06,883.06 703.08,881.90 708.08,880.60 713.08,879.16 718.06,877.59 723.01,875.88 727.95,874.04 732.85,872.06 737.72,869.95 742.56,867.70 747.35,865.32 752.10,862.80 756.81,860.15 761.46,857.36 766.06,854.44 770.61,851.39 775.09,848.20 779.51,844.88 783.86,841.43 788.14,837.84 792.34,834.12 796.47,830.27 800.51,826.29 804.47,822.17 808.34,817.92 812.12,813.53 815.80,809.02 819.38,804.36 822.86,799.58 826.23,794.65 829.49,789.60 832.64,784.41 835.67,779.08 838.58,773.62 841.36,768.03 844.02,762.30 846.54,756.43 848.93,750.43 851.18,744.30 853.29,738.02 855.25,731.61 857.06,725.06 858.71,718.38 860.21,711.56 861.55,704.60 862.72,697.50 863.72,690.26 864.55,682.89 865.20,675.37 865.67,667.72 865.95,659.93 866.05,652.00Z" fill="url(#g26)"/>
<path d="M207.00,140.20 450.00,140.20 450.00,141.55 207.00,141.85Z" fill="#d05050"/>
<path d="M450.00,140.20 658.00,140.20 658.00,141.55 450.00,141.55Z" fill="#d05050"/>
<path d="M866.40,302.00 866.40,652.00 864.95,652.00 864.95,302.00Z" fill="#b82525"/>
<path d="M658.00,887.80 164.00,887.80 164.00,886.45 658.00,886.45Z" fill="#8a2020"/>
<path d="M658.00,140.20 665.09,140.25 672.06,140.42 678.90,140.69 685.62,141.07 692.21,141.56 698.68,142.15 705.03,142.85 711.25,143.65 717.35,144.56 723.32,145.57 729.17,146.68 734.89,147.88 740.48,149.19 745.95,150.60 751.30,152.10 756.51,153.69 761.61,155.38 766.58,157.17 771.42,159.05 776.14,161.01 780.73,163.07 785.20,165.22 789.54,167.45 793.76,169.77 797.86,172.18 801.83,174.67 805.68,177.25 809.41,179.91 813.02,182.66 816.50,185.48 819.87,188.39 823.12,191.37 826.24,194.44 829.25,197.59 832.14,200.82 834.91,204.13 837.56,207.51 840.10,210.98 842.52,214.52 844.83,218.15 847.01,221.85 849.09,225.64 851.04,229.50 852.88,233.44 854.61,237.46 856.22,241.56 857.71,245.74 859.09,250.00 860.35,254.34 861.49,258.75 862.51,263.25 863.42,267.82 864.20,272.47 864.87,277.20 865.42,282.01 865.85,286.89 866.15,291.85 866.34,296.89 866.40,302.00 864.95,302.00 864.89,296.92 864.71,291.92 864.40,287.00 863.98,282.15 863.44,277.39 862.78,272.69 862.00,268.08 861.11,263.55 860.09,259.09 858.96,254.71 857.72,250.42 856.36,246.20 854.88,242.06 853.29,238.00 851.59,234.02 849.77,230.12 847.83,226.30 845.78,222.55 843.62,218.89 841.34,215.30 838.95,211.79 836.44,208.36 833.82,205.01 831.08,201.74 828.22,198.54 825.24,195.43 822.15,192.39 818.94,189.43 815.61,186.55 812.16,183.75 808.59,181.03 804.89,178.39 801.08,175.84 797.14,173.36 793.08,170.98 788.89,168.67 784.58,166.45 780.15,164.32 775.59,162.28 770.91,160.32 766.10,158.45 761.16,156.68 756.10,155.00 750.91,153.41 745.60,151.92 740.16,150.52 734.59,149.22 728.90,148.01 723.08,146.91 717.13,145.90 711.07,145.00 704.87,144.20 698.55,143.50 692.10,142.91 685.53,142.42 678.83,142.04 672.01,141.77 665.07,141.61 658.00,141.55Z" fill="url(#g16)"/>
<path d="M866.40,652.00 866.30,659.94 866.02,667.74 865.55,675.40 864.90,682.92 864.07,690.31 863.06,697.55 861.89,704.66 860.55,711.63 859.05,718.46 857.40,725.15 855.58,731.71 853.62,738.13 851.51,744.41 849.26,750.56 846.87,756.57 844.34,762.44 841.68,768.18 838.89,773.78 835.98,779.25 832.94,784.59 829.79,789.78 826.52,794.85 823.15,799.78 819.66,804.57 816.08,809.23 812.39,813.76 808.61,818.15 804.73,822.41 800.76,826.54 796.71,830.53 792.58,834.38 788.37,838.11 784.08,841.70 779.72,845.16 775.30,848.48 770.81,851.68 766.25,854.73 761.65,857.66 756.98,860.45 752.27,863.11 747.51,865.63 742.71,868.01 737.86,870.27 732.98,872.38 728.07,874.37 723.13,876.21 718.17,877.92 713.18,879.50 708.18,880.94 703.16,882.24 698.13,883.40 693.10,884.43 688.06,885.33 683.02,886.08 677.99,886.70 672.97,887.18 667.96,887.52 662.97,887.73 658.00,887.80 658.00,886.45 662.93,886.38 667.89,886.18 672.86,885.83 677.85,885.35 682.84,884.74 687.84,883.98 692.84,883.09 697.84,882.07 702.83,880.91 707.82,879.61 712.78,878.17 717.74,876.61 722.67,874.90 727.57,873.06 732.45,871.09 737.29,868.98 742.10,866.74 746.87,864.37 751.59,861.86 756.27,859.22 760.90,856.44 765.47,853.53 769.99,850.49 774.45,847.32 778.84,844.02 783.17,840.58 787.42,837.01 791.60,833.31 795.71,829.48 799.73,825.52 803.67,821.42 807.52,817.19 811.28,812.83 814.94,808.33 818.50,803.70 821.96,798.94 825.32,794.05 828.56,789.02 831.69,783.85 834.71,778.55 837.60,773.12 840.37,767.55 843.01,761.85 845.53,756.01 847.90,750.04 850.14,743.93 852.24,737.69 854.19,731.30 855.99,724.79 857.64,718.13 859.13,711.34 860.46,704.40 861.63,697.33 862.63,690.13 863.45,682.78 864.10,675.29 864.57,667.67 864.85,659.90 864.95,652.00Z" fill="url(#g27)"/>
<path d="M207.00,141.50 450.00,141.20 450.00,142.00 207.00,142.70Z" fill="url(#g7)"/>
<path d="M450.00,141.20 658.00,141.20 658.00,142.00 450.00,142.00Z" fill="#802020"/>
<path d="M865.30,302.00 865.30,652.00 864.20,652.00 864.20,302.00Z" fill="#a03030"/>
<path d="M658.00,886.80 164.00,886.80 164.00,885.85 658.00,885.85Z" fill="#701818"/>
<path d="M658.00,141.20 665.07,141.26 672.03,141.42 678.85,141.69 685.55,142.07 692.13,142.56 698.58,143.15 704.91,143.85 711.11,144.65 717.19,145.56 723.14,146.56 728.97,147.67 734.67,148.87 740.24,150.18 745.69,151.58 751.01,153.07 756.20,154.66 761.27,156.35 766.22,158.13 771.04,160.00 775.73,161.95 780.30,164.00 784.74,166.14 789.06,168.36 793.25,170.67 797.32,173.07 801.27,175.54 805.09,178.11 808.79,180.75 812.38,183.47 815.83,186.28 819.17,189.17 822.39,192.13 825.49,195.18 828.48,198.31 831.34,201.51 834.09,204.79 836.72,208.15 839.23,211.59 841.63,215.11 843.92,218.71 846.09,222.38 848.14,226.13 850.08,229.97 851.90,233.88 853.61,237.87 855.21,241.94 856.69,246.09 858.05,250.32 859.30,254.62 860.43,259.01 861.45,263.47 862.35,268.02 863.13,272.64 863.79,277.34 864.33,282.12 864.75,286.97 865.06,291.91 865.24,296.92 865.30,302.00 864.20,302.00 864.14,296.94 863.97,291.96 863.67,287.06 863.26,282.23 862.72,277.48 862.07,272.80 861.30,268.21 860.41,263.69 859.41,259.26 858.29,254.90 857.06,250.62 855.71,246.42 854.24,242.30 852.67,238.26 850.97,234.29 849.17,230.41 847.25,226.60 845.22,222.88 843.07,219.23 840.81,215.65 838.43,212.16 835.94,208.74 833.33,205.40 830.61,202.14 827.77,198.95 824.82,195.85 821.74,192.82 818.55,189.87 815.24,187.00 811.80,184.20 808.25,181.49 804.57,178.86 800.77,176.31 796.85,173.84 792.81,171.45 788.64,169.15 784.34,166.93 779.93,164.80 775.38,162.76 770.71,160.81 765.91,158.94 760.99,157.17 755.94,155.48 750.77,153.89 745.47,152.40 740.04,151.00 734.48,149.70 728.80,148.49 722.99,147.38 717.06,146.38 711.00,145.47 704.81,144.67 698.50,143.97 692.06,143.37 685.50,142.88 678.81,142.50 672.00,142.23 665.06,142.06 658.00,142.00Z" fill="url(#g17)"/>
<path d="M865.30,652.00 865.20,659.91 864.92,667.69 864.45,675.32 863.80,682.81 862.98,690.17 861.98,697.39 860.81,704.47 859.48,711.41 857.98,718.21 856.33,724.87 854.53,731.40 852.57,737.79 850.47,744.05 848.23,750.17 845.85,756.15 843.33,761.99 840.69,767.71 837.91,773.28 835.01,778.72 831.99,784.03 828.86,789.20 825.61,794.24 822.25,799.14 818.78,803.91 815.21,808.55 811.55,813.05 807.78,817.42 803.93,821.66 799.98,825.76 795.95,829.73 791.84,833.57 787.65,837.28 783.39,840.85 779.05,844.29 774.65,847.60 770.19,850.78 765.66,853.83 761.08,856.74 756.45,859.52 751.76,862.17 747.03,864.68 742.25,867.06 737.43,869.30 732.58,871.41 727.70,873.39 722.78,875.23 717.84,876.94 712.88,878.51 707.91,879.95 702.92,881.25 697.92,882.41 692.91,883.44 687.90,884.33 682.89,885.08 677.89,885.70 672.89,886.18 667.91,886.52 662.94,886.73 658.00,886.80 658.00,885.85 662.92,885.78 667.86,885.57 672.81,885.23 677.78,884.75 682.76,884.13 687.74,883.37 692.73,882.48 697.71,881.45 702.68,880.29 707.65,878.99 712.60,877.56 717.53,875.98 722.44,874.28 727.33,872.44 732.19,870.47 737.01,868.36 741.80,866.12 746.55,863.75 751.25,861.24 755.91,858.60 760.52,855.83 765.08,852.93 769.58,849.89 774.01,846.73 778.39,843.43 782.70,840.00 786.94,836.45 791.10,832.76 795.19,828.94 799.20,824.99 803.12,820.91 806.96,816.69 810.70,812.35 814.35,807.87 817.90,803.25 821.35,798.51 824.69,793.63 827.93,788.62 831.05,783.47 834.05,778.19 836.93,772.78 839.70,767.23 842.33,761.55 844.83,755.73 847.20,749.77 849.44,743.68 851.53,737.46 853.47,731.09 855.27,724.60 856.91,717.96 858.40,711.18 859.73,704.27 860.89,697.22 861.88,690.03 862.71,682.71 863.35,675.24 863.82,667.63 864.10,659.89 864.20,652.00Z" fill="url(#g28)"/>

<rect x="26.1" y="102.4" width="34.5" height="27" rx="1.5" fill="#7c7c7c"/>
<rect x="26.1" y="125.8" width="34.5" height="3.6" rx="1.2" fill="#3c3c3c"/>
<rect x="26.1" y="134" width="34.5" height="26.2" rx="1.5" fill="#e41616"/>
<rect x="27" y="156.5" width="33.5" height="3.7" rx="1.2" fill="#c81010"/>
<path d="M 61 93.5 Q 61 92 63 92 L 129.5 92 Q 132.5 92 134.5 95 L 143 108.5 Q 145 112 148 112.3 L 204 115.8 Q 207 116.5 207 120 L 207 142 Q 207 145.5 204 145.8 L 148 148.6 Q 145 149 143 152 L 134.5 166 Q 132.5 168.8 129.5 168.8 L 63 168.8 Q 61 168.8 61 167 Z" fill="#121212"/>
<rect x="59.8" y="97.5" width="72" height="6" fill="#4e4e4e"/>
<rect x="61" y="153.3" width="71" height="11" fill="#535353"/>
<path d="M 132 103.5 L 146 129.5 L 132 153.5 Z" fill="#2a2a2a"/>
<path d="M 147.5 118.5 L 203 120.5 L 203 125.5 L 147.5 125 Z" fill="#474747"/>
<path d="M 147.5 133 L 203 133 L 203 143.5 L 147.5 145.5 Z" fill="#5e5e5e"/>


<rect x="2.7" y="886.1" width="38" height="19.9" fill="#f6f6f6"/>
<rect x="2.7" y="886.1" width="38" height="3.6" fill="#363636"/>
<rect x="2.7" y="894" width="38" height="3.2" fill="#2c2c2c"/>
<rect x="2.7" y="900.8" width="38" height="4.2" fill="#ececec"/>
<rect x="2.7" y="904.8" width="38" height="1.2" fill="#9a9a9a"/>
<rect x="2.7" y="886.1" width="3.8" height="19.9" rx="1" fill="#2a2a2a"/>
<rect x="2.7" y="900" width="3.8" height="6" rx="1" fill="#777"/>
<rect x="40.7" y="874.9" width="67.5" height="41.6" rx="1.5" fill="#1e1e1e"/>
<rect x="40.7" y="883.4" width="35.2" height="8.1" fill="#505050"/>
<rect x="40.7" y="898.7" width="35.2" height="13" fill="#656565"/>
<rect x="75.9" y="883.4" width="32.3" height="8.1" fill="#2c2c2c"/>
<rect x="75.9" y="898.7" width="32.3" height="13" fill="#383838"/>
<rect x="98.9" y="883.4" width="9.3" height="8.1" fill="#464646"/>
<rect x="98.9" y="898.7" width="9.3" height="13" fill="#555555"/>
<path d="M 107.5 877.8 L 165.7 879 L 165.7 912.6 L 107.5 914.1 Z" fill="#181818"/>
<path d="M 108 884.6 L 164 885 L 164 892 L 108 892.2 Z" fill="#4e4e4e"/>
<path d="M 108 898.5 L 164 898.6 L 164 911 L 108 911.5 Z" fill="#727272"/>
<rect x="106.2" y="879" width="3.4" height="34" rx="1.2" fill="#141414"/>
<rect x="113.0" y="879" width="3.4" height="34" rx="1.2" fill="#141414"/>
<rect x="123.2" y="879" width="3.4" height="34" rx="1.2" fill="#141414"/>
<rect x="132.3" y="879" width="3.4" height="34" rx="1.2" fill="#141414"/>
<rect x="142.1" y="879" width="3.4" height="34" rx="1.2" fill="#141414"/>
<rect x="151.9" y="879" width="3.4" height="34" rx="1.2" fill="#141414"/>
<rect x="161.7" y="879" width="3.4" height="34" rx="1.2" fill="#141414"/>
<rect x="163" y="879" width="2.7" height="33.6" fill="#161616"/>

<g transform="rotate(-3.1 842 929)">
<rect x="768.5" y="914.5" width="147.5" height="29" rx="6" fill="#ffffff" fill-opacity="0.68" stroke="#de6068" stroke-width="2.4"/>
<text x="774.8" y="936.3" font-family="Liberation Sans" font-weight="bold" font-size="19.8" fill="#d9535b" stroke="#d9535b" stroke-width="0.35">technic hobby</text>
</g>

</svg>
</body></html>
